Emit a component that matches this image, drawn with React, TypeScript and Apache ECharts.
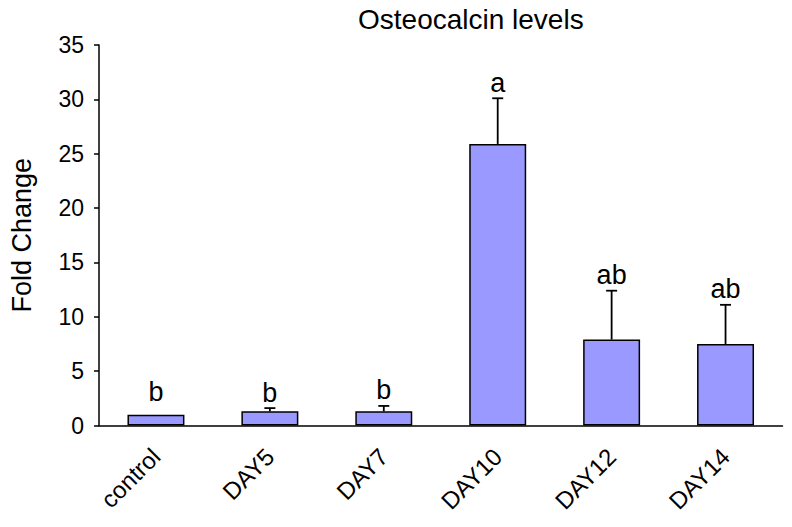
import React, { useEffect, useRef } from "react";
import * as echarts from "echarts";

const categories = ["control", "DAY5", "DAY7", "DAY10", "DAY12", "DAY14"];
const foldChange = [1.0, 1.3, 1.3, 25.9, 7.9, 7.5];
const errorTop = [1.0, 1.6, 1.8, 30.1, 12.4, 11.1];
const letters = ["b", "b", "b", "a", "ab", "ab"];
const yTicks = { min: 0, max: 35, interval: 5 };

const FONT = "Arial, 'Liberation Sans', sans-serif";

export default function App() {
  const ref = useRef<HTMLDivElement>(null);
  useEffect(() => {
    if (!ref.current) return;
    const chart = echarts.init(ref.current, null, { renderer: "svg" });
    const errData = categories.map((_, i) => [i, foldChange[i], errorTop[i]]);
    chart.setOption({
      animation: false,
      backgroundColor: "#ffffff",
      title: {
        text: "Osteocalcin levels",
        left: 353,
        top: 0,
        textStyle: { fontFamily: FONT, fontSize: 28, fontWeight: "normal", color: "#000" },
      },
      grid: { left: 97.5, right: 9.5, top: 45, bottom: 101.5, containLabel: false },
      xAxis: {
        type: "category",
        data: categories,
        axisLine: { lineStyle: { color: "#000", width: 1.5 } },
        axisTick: { inside: true, length: 5, lineStyle: { color: "#000", width: 1.5 } },
        axisLabel: {
          rotate: 45,
          margin: 27,
          fontSize: 24,
          fontFamily: FONT,
          color: "#000",
        },
        splitLine: { show: false },
      },
      yAxis: {
        type: "value",
        min: yTicks.min,
        max: yTicks.max,
        interval: yTicks.interval,
        name: "Fold Change",
        nameLocation: "middle",
        nameGap: 64,
        nameTextStyle: { fontFamily: FONT, fontSize: 27, color: "#000" },
        axisLine: { show: true, lineStyle: { color: "#000", width: 1.5 } },
        axisTick: { show: true, length: 5, lineStyle: { color: "#000", width: 1.5 } },
        axisLabel: { margin: 15, fontSize: 23, fontFamily: FONT, color: "#000" },
        splitLine: { show: false },
      },
      series: [
        {
          type: "bar",
          data: foldChange,
          barWidth: "50%",
          itemStyle: { color: "#9999FF", borderColor: "#000", borderWidth: 1.5 },
        },
        {
          type: "custom",
          data: errData,
          z: 5,
          renderItem: (params: any, api: any) => {
            const i = api.value(0);
            const v = api.value(1);
            const e = api.value(2);
            const base = api.coord([i, v]);
            const top = api.coord([i, e]);
            const children: any[] = [];
            const hasErr = e > v;
            if (hasErr) {
              children.push({
                type: "line",
                shape: { x1: base[0], y1: base[1], x2: top[0], y2: top[1] },
                style: { stroke: "#000", lineWidth: 1.8 },
              });
              children.push({
                type: "line",
                shape: { x1: top[0] - 5.5, y1: top[1], x2: top[0] + 5.5, y2: top[1] },
                style: { stroke: "#000", lineWidth: 1.8 },
              });
            }
            children.push({
              type: "text",
              x: top[0],
              y: top[1] - (hasErr ? 2 : 9),
              style: {
                text: letters[params.dataIndex],
                fontFamily: FONT,
                fontSize: 27,
                fill: "#000",
                align: "center",
                verticalAlign: "bottom",
              },
            });
            return { type: "group", children };
          },
        },
      ],
    });
    return () => chart.dispose();
  }, []);
  return (
    <div
      ref={ref}
      style={{ position: "absolute", left: 0, top: 0, width: 792, height: 527 }}
    />
  );
}
